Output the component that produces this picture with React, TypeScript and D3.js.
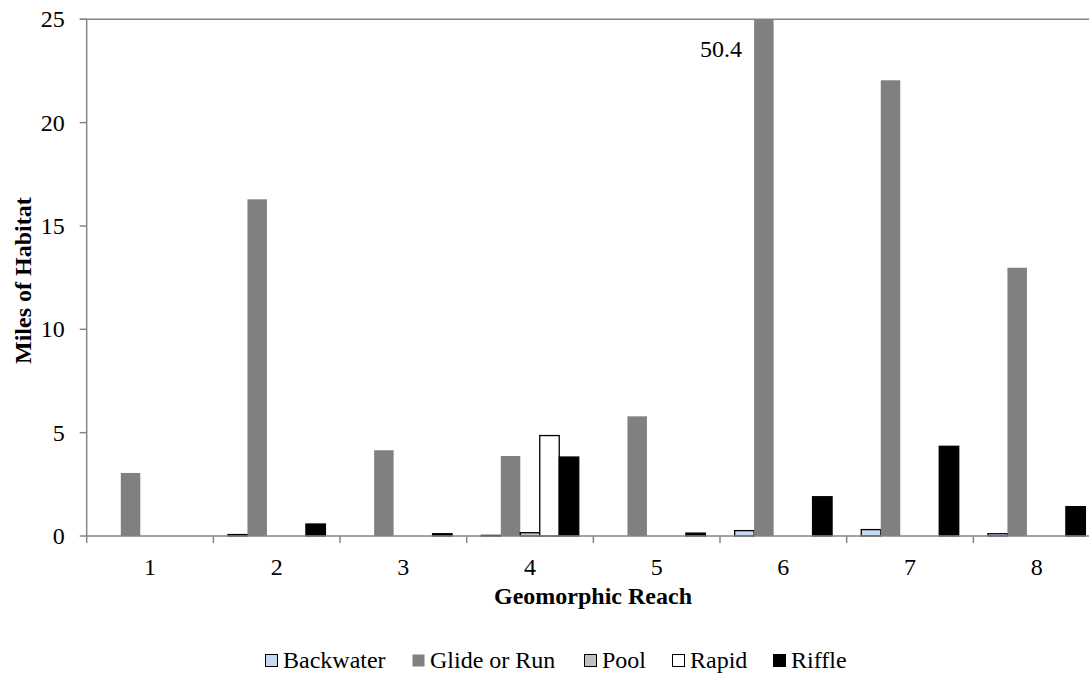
import React from "react";
import * as d3 from "d3";

const categories = ["1", "2", "3", "4", "5", "6", "7", "8"];
const seriesNames = ["Backwater", "Glide or Run", "Pool", "Rapid", "Riffle"];
const backwater = [0, 0.07, 0, 0.03, 0, 0.26, 0.31, 0.11];
const glide = [3.05, 16.29, 4.15, 3.87, 5.79, 50.4, 22.05, 12.98];
const pool = [0, 0, 0, 0.16, 0, 0, 0, 0];
const rapid = [0, 0, 0, 4.86, 0, 0, 0, 0];
const riffle = [0, 0.58, 0.11, 3.82, 0.14, 1.9, 4.34, 1.42];
const yTicks = [0, 5, 10, 15, 20, 25];
const overflowLabel = "50.4";

const seriesValues = [backwater, glide, pool, rapid, riffle];
const fills = ["#c6d9f1", "#808080", "#c0c0c0", "#ffffff", "#000000"];
const strokes = ["#000000", "none", "#000000", "#000000", "#000000"];

const W = 1089;
const H = 681;
const left = 86.7;
const right = 1100;
const top = 19.3;
const bottom = 536;
const font = "Liberation Serif";
const axisColor = "#868686";
const fs = 24;

export default function App() {
  const x = d3.scaleBand<string>().domain(categories).range([left, right]).paddingInner(0).paddingOuter(0);
  const xs = d3.scaleBand<string>().domain(seriesNames).range([0, x.bandwidth()]).paddingInner(0).paddingOuter(0.75);
  const y = d3.scaleLinear().domain([0, 25]).range([bottom, top]).clamp(true);

  const glideIdx = 1;
  const overCat = categories[glide.findIndex((v) => v > 25)];

  const legendText = [103, 128, 44, 57, 56];
  let lx = 0;
  const legendPos = legendText.map((w) => {
    const p = lx;
    lx += 13 + 5 + w + 26;
    return p;
  });

  return (
    <div style={{ position: "absolute", left: 0, top: 0 }}>
      <svg width={W} height={H} style={{ display: "block", background: "#fff" }}>
        <line x1={left - 7} x2={right} y1={y(25)} y2={y(25)} stroke={axisColor} strokeWidth={1.5} />
        {seriesNames.map((s, si) =>
          categories.map((c, ci) => {
            const v = seriesValues[si][ci];
            if (v <= 0) return null;
            const bx = (x(c) as number) + (xs(s) as number);
            const by = y(v);
            const h = bottom - by;
            return (
              <rect
                key={s + c}
                x={bx}
                y={by}
                width={xs.bandwidth()}
                height={Math.max(h, 0.5)}
                fill={fills[si]}
                stroke={strokes[si]}
                strokeWidth={strokes[si] === "none" ? 0 : 1.3}
              />
            );
          })
        )}
        <line x1={left} x2={left} y1={top} y2={bottom} stroke={axisColor} strokeWidth={1.5} />
        {yTicks.map((t) => (
          <g key={t}>
            <line x1={left - 7} x2={left} y1={y(t)} y2={y(t)} stroke={axisColor} strokeWidth={1.5} />
            <text x={left - 22} y={y(t)} dy="0.33em" textAnchor="end" fontFamily={font} fontSize={fs} fill="#000">
              {t}
            </text>
          </g>
        ))}
        <line x1={left} x2={right} y1={bottom} y2={bottom} stroke={axisColor} strokeWidth={1.5} />
        {categories.map((c) => (
          <line key={"t" + c} x1={x(c) as number} x2={x(c) as number} y1={bottom} y2={bottom + 7} stroke={axisColor} strokeWidth={1.5} />
        ))}
        {categories.map((c) => (
          <text key={"l" + c} x={(x(c) as number) + x.bandwidth() / 2} y={575} textAnchor="middle" fontFamily={font} fontSize={fs}>
            {c}
          </text>
        ))}
        <text
          x={(x(overCat) as number) + (xs(seriesNames[glideIdx]) as number) - 12}
          y={57}
          textAnchor="end"
          fontFamily={font}
          fontSize={fs}
        >
          {overflowLabel}
        </text>
        <text x={593} y={604} textAnchor="middle" fontFamily={font} fontSize={fs} fontWeight="bold">
          Geomorphic Reach
        </text>
        <text
          transform={`translate(31,${(top + bottom) / 2 + 3}) rotate(-90)`}
          textAnchor="middle"
          fontFamily={font}
          fontSize={fs}
          fontWeight="bold"
        >
          Miles of Habitat
        </text>
        <g transform="translate(265,668)">
          {seriesNames.map((s, si) => (
            <g key={s} transform={`translate(${legendPos[si]},0)`}>
              <rect x={0.5} y={-13.5} width={12} height={12} fill={fills[si]} stroke={strokes[si] === "none" ? "none" : "#000"} strokeWidth={1} />
              <text x={18} y={0} fontFamily={font} fontSize={fs}>
                {s}
              </text>
            </g>
          ))}
        </g>
      </svg>
    </div>
  );
}
